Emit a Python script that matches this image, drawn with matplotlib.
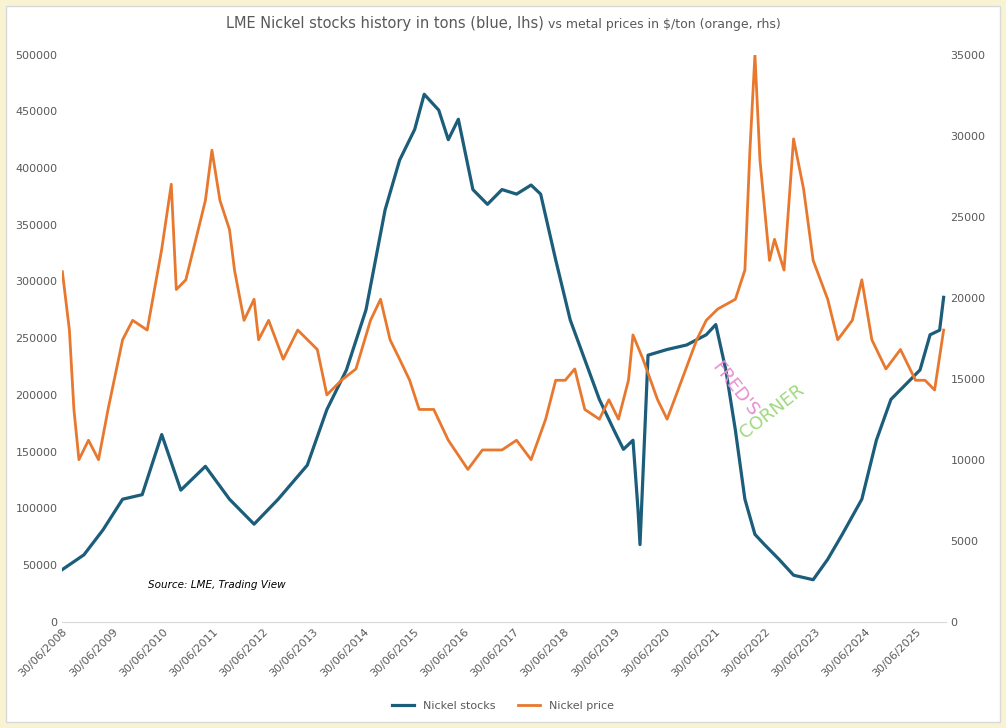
import matplotlib.pyplot as plt

# decimal years
stock_t = [2008.50, 2008.93, 2009.31, 2009.70, 2010.09, 2010.48, 2010.86, 2011.35, 2011.83, 2012.32,
           2012.80, 2013.38, 2013.77, 2014.16, 2014.55, 2014.93, 2015.22, 2015.52, 2015.71, 2016.00,
           2016.19, 2016.39, 2016.68, 2016.97, 2017.26, 2017.55, 2017.84, 2018.03, 2018.33, 2018.62,
           2018.91, 2019.20, 2019.49, 2019.68, 2019.87, 2019.97, 2020.01, 2020.17, 2020.55, 2020.94,
           2021.33, 2021.52, 2021.72, 2021.91, 2022.10, 2022.30, 2022.49, 2022.78, 2023.07, 2023.46,
           2023.75, 2024.04, 2024.43, 2024.72, 2025.01, 2025.30, 2025.59, 2025.79, 2025.98, 2026.06]
stocks = [46000, 59000, 81000, 108000, 112000, 165000, 116000, 137000, 108000, 86000,
          108000, 138000, 187000, 222000, 275000, 363000, 407000, 434000, 465000, 451000,
          425000, 443000, 381000, 368000, 381000, 377000, 385000, 377000, 319000, 266000,
          231000, 196000, 169000, 152000, 160000, 99000, 68000, 235000, 240000, 244000,
          253000, 262000, 222000, 169000, 108000, 77000, 68000, 55000, 41000, 37000,
          55000, 77000, 108000, 160000, 196000, 209000, 222000, 253000, 257000, 286000]

price_t = [2008.50, 2008.64, 2008.73, 2008.83, 2009.02, 2009.22, 2009.41, 2009.70, 2009.90, 2010.19,
           2010.48, 2010.67, 2010.77, 2010.96, 2011.16, 2011.35, 2011.48, 2011.64, 2011.83, 2011.93,
           2012.12, 2012.32, 2012.41, 2012.61, 2012.90, 2013.19, 2013.58, 2013.77, 2014.06, 2014.35,
           2014.64, 2014.84, 2015.03, 2015.22, 2015.42, 2015.61, 2015.90, 2016.19, 2016.58, 2016.87,
           2017.26, 2017.55, 2017.84, 2018.13, 2018.33, 2018.52, 2018.71, 2018.91, 2019.20, 2019.39,
           2019.58, 2019.78, 2019.87, 2020.07, 2020.36, 2020.55, 2020.84, 2021.14, 2021.33, 2021.56,
           2021.91, 2022.10, 2022.20, 2022.30, 2022.40, 2022.59, 2022.69, 2022.88, 2023.07, 2023.27,
           2023.46, 2023.75, 2023.95, 2024.24, 2024.43, 2024.63, 2024.91, 2025.20, 2025.50, 2025.69,
           2025.88, 2026.06]
prices = [21600, 18000, 13100, 10000, 11200, 10000, 13100, 17400, 18600, 18000,
          23000, 27000, 20500, 21100, 23600, 26000, 29100, 26000, 24200, 21700,
          18600, 19900, 17400, 18600, 16200, 18000, 16800, 14000, 14900, 15600,
          18600, 19900, 17400, 16200, 14900, 13100, 13100, 11200, 9400, 10600,
          10600, 11200, 10000, 12500, 14900, 14900, 15600, 13100, 12500, 13700,
          12500, 14900, 17700, 16200, 13700, 12500, 14900, 17400, 18600, 19300,
          19900, 21700, 29100, 35000, 28500, 22300, 23600, 21700, 29800, 26700,
          22300, 19900, 17400, 18600, 21100, 17400, 15600, 16800, 14900, 14900,
          14300, 18000]

tick_years = list(range(2008, 2026))

fig = plt.figure(figsize=(10.06, 7.28), dpi=100, facecolor='#f7f3d3')
panel = plt.Rectangle((0.006, 0.008), 0.988, 0.984, transform=fig.transFigure,
                      facecolor='white', edgecolor='#d9d9d9', zorder=-1)
fig.patches.append(panel)
ax = fig.add_axes([0.062, 0.146, 0.878, 0.779])
ax.set_facecolor('none')
ax2 = ax.twinx()

blue = '#1b5d7a'
orange = '#e8782e'
ax.plot(stock_t, stocks, color=blue, lw=2.3, label='Nickel stocks')
ax2.plot(price_t, prices, color=orange, lw=2.0, label='Nickel price')

ax.set_ylim(0, 500000)
ax.set_yticks(range(0, 500001, 50000))
ax2.set_ylim(0, 35000)
ax2.set_yticks(range(0, 35001, 5000))
ax.set_xlim(2008.5, 2026.1)
ax.set_xticks([y + 0.5 for y in tick_years])
ax.set_xticklabels([f'30/06/{y}' for y in tick_years], rotation=45, ha='right',
                   rotation_mode='anchor', fontsize=8, color='#595959')
for a in (ax, ax2):
    a.tick_params(axis='y', labelsize=8, labelcolor='#595959', length=0)
    for s in a.spines.values():
        s.set_visible(False)
ax.tick_params(axis='x', length=0)
ax.spines['bottom'].set_visible(True)
ax.spines['bottom'].set_color('#d9d9d9')

fig.text(0.545, 0.962, 'LME Nickel stocks history in tons (blue, lhs) ', ha='right',
         fontsize=10.5, color='#595959')
fig.text(0.545, 0.962, 'vs metal prices in $/ton (orange, rhs)', ha='left',
         fontsize=9, color='#595959')
ax.text(2010.2, 30000, 'Source: LME, Trading View', fontsize=7.5, style='italic')
ax.text(2021.9, 205000, "FRED'S", color='#e58fd0', fontsize=13, rotation=-52,
        ha='center', va='center')
ax.text(2022.65, 185000, 'CORNER', color='#9fd87f', fontsize=13, rotation=38,
        ha='center', va='center')

h1, l1 = ax.get_legend_handles_labels()
h2, l2 = ax2.get_legend_handles_labels()
fig.legend(h1 + h2, l1 + l2, loc='lower center', bbox_to_anchor=(0.5, 0.01), ncol=2,
           frameon=False, fontsize=8, labelcolor='#595959', handlelength=2)

fig.savefig('out.png', dpi=100, facecolor=fig.get_facecolor())
